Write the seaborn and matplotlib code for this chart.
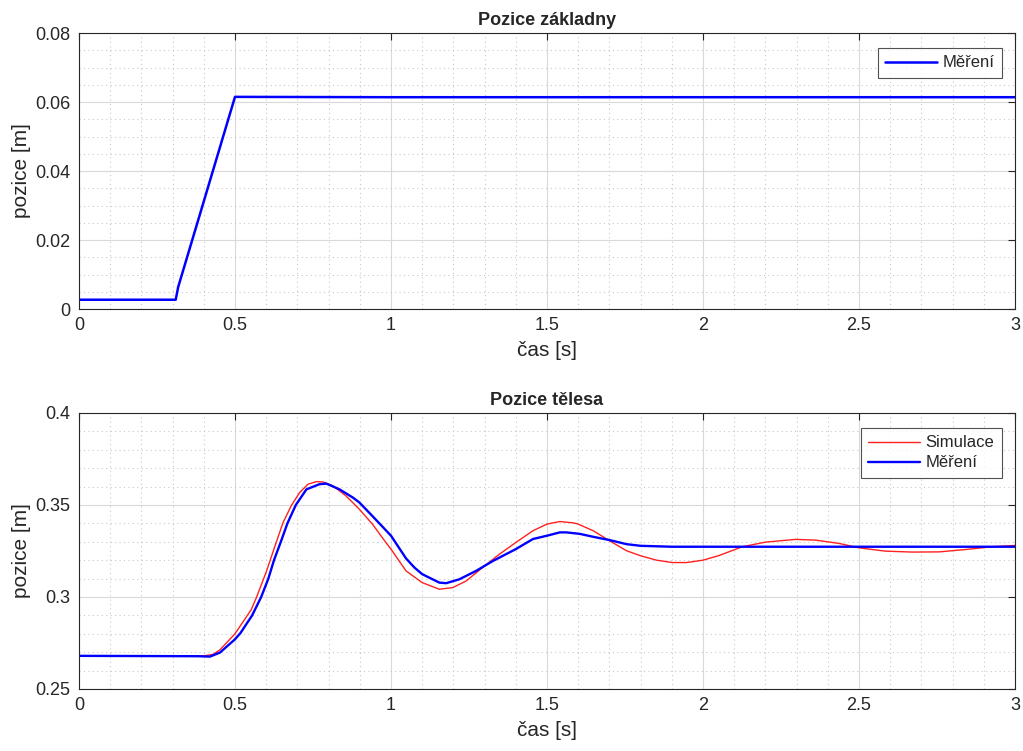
import numpy as np
import pandas as pd
import matplotlib
matplotlib.use("Agg")
import matplotlib.pyplot as plt
from matplotlib.ticker import MultipleLocator
import seaborn as sns

# === DATOS ===
# Pozice základny - měření
t_zakl = [0.0, 0.31, 0.318, 0.40, 0.50, 1.0, 1.5, 2.0, 2.5, 3.0]
x_zakl = [0.0027, 0.0027, 0.0064, 0.0312, 0.0615, 0.0614, 0.0614, 0.0614, 0.0614, 0.0614]

# Pozice tělesa - simulace
t_sim = [0.0, 0.40, 0.43, 0.452, 0.50, 0.552, 0.569, 0.601, 0.628, 0.654, 0.681,
         0.707, 0.734, 0.761, 0.782, 0.814, 0.856, 0.899, 0.941, 0.984, 1.0,
         1.048, 1.10, 1.155, 1.198, 1.241, 1.30, 1.348, 1.40, 1.455, 1.50,
         1.541, 1.583, 1.60, 1.648, 1.701, 1.755, 1.80, 1.851, 1.902, 1.947,
         2.0, 2.051, 2.126, 2.20, 2.297, 2.361, 2.436, 2.50, 2.585, 2.671,
         2.756, 2.842, 2.927, 3.0]
x_sim = [0.268, 0.268, 0.2688, 0.2713, 0.2800, 0.2931, 0.2998, 0.3140, 0.3276,
         0.3404, 0.3498, 0.3567, 0.3613, 0.3627, 0.3625, 0.3604, 0.3549, 0.3476,
         0.3395, 0.3295, 0.3260, 0.3142, 0.3078, 0.3042, 0.3051, 0.3087, 0.3169,
         0.3233, 0.3296, 0.3360, 0.3396, 0.3410, 0.3403, 0.3396, 0.3360, 0.3305,
         0.3251, 0.3224, 0.3200, 0.3187, 0.3187, 0.3200, 0.3225, 0.3273, 0.3298,
         0.3313, 0.3309, 0.3291, 0.3267, 0.3249, 0.3244, 0.3245, 0.3258, 0.3273,
         0.3280]

# Pozice tělesa - měření
t_mer = [0.0, 0.38, 0.42, 0.452, 0.50, 0.518, 0.555, 0.584, 0.607, 0.625, 0.647,
         0.668, 0.695, 0.729, 0.771, 0.793, 0.835, 0.878, 0.899, 0.946, 1.0,
         1.048, 1.075, 1.10, 1.155, 1.177, 1.219, 1.273, 1.327, 1.40, 1.455, 1.50,
         1.541, 1.562, 1.605, 1.648, 1.701, 1.755, 1.80, 1.90, 2.0, 2.5, 3.0]
x_mer = [0.268, 0.2678, 0.2676, 0.2698, 0.2770, 0.2805, 0.2900, 0.3000, 0.3100,
         0.3200, 0.3300, 0.3400, 0.3500, 0.3585, 0.3613, 0.3616, 0.3585, 0.3540,
         0.3513, 0.3430, 0.3333, 0.3210, 0.3160, 0.3124, 0.3078, 0.3075, 0.3096,
         0.3142, 0.3196, 0.3260, 0.3315, 0.3333, 0.3351, 0.3351, 0.3343, 0.3327,
         0.3309, 0.3287, 0.3278, 0.3273, 0.3273, 0.3273, 0.3273]

df_zakl = pd.DataFrame({"t": t_zakl, "x": x_zakl})
df_sim = pd.DataFrame({"t": t_sim, "x": x_sim})
df_mer = pd.DataFrame({"t": t_mer, "x": x_mer})

# === ESTILO ===
sns.set_theme(style="white")
plt.rcParams["font.family"] = ["Liberation Sans", "DejaVu Sans"]

fig = plt.figure(figsize=(10.23, 7.51), dpi=100)
ax1 = fig.add_axes([0.0772, 0.5885, 0.9150, 0.3675])
ax2 = fig.add_axes([0.0772, 0.0826, 0.9150, 0.3675])

sns.lineplot(data=df_zakl, x="t", y="x", ax=ax1, color="#0000ff", lw=1.8,
             label="Měření", sort=False)
sns.lineplot(data=df_sim, x="t", y="x", ax=ax2, color="#ff2020", lw=1.0,
             label="Simulace", sort=False)
sns.lineplot(data=df_mer, x="t", y="x", ax=ax2, color="#0000ff", lw=1.7,
             label="Měření", sort=False)


def styl_matlab(ax, ylim, ymaj, ymin, titulek):
    ax.set_xlim(0, 3)
    ax.set_ylim(*ylim)
    ax.xaxis.set_major_locator(MultipleLocator(0.5))
    ax.xaxis.set_minor_locator(MultipleLocator(0.1))
    ax.yaxis.set_major_locator(MultipleLocator(ymaj))
    ax.yaxis.set_minor_locator(MultipleLocator(ymin))
    ax.xaxis.set_major_formatter(plt.FuncFormatter(lambda v, p: f"{v:g}"))
    ax.yaxis.set_major_formatter(plt.FuncFormatter(lambda v, p: f"{v:g}"))
    ax.grid(which="major", color="#d9d9d9", lw=0.8, ls="-")
    ax.grid(which="minor", color="#c8c8c8", lw=0.8, ls=(0, (1, 3)))
    ax.set_axisbelow(True)
    ax.tick_params(which="major", direction="in", length=5, width=0.8,
                   top=True, right=True, labelsize=13, colors="#262626",
                   pad=6)
    ax.tick_params(which="minor", length=0)
    for s in ax.spines.values():
        s.set_color("#262626")
        s.set_linewidth(0.8)
    ax.set_title(titulek, fontsize=13, fontweight="bold", pad=6)
    ax.set_xlabel("čas [s]", fontsize=15, color="#262626", labelpad=5)
    ax.set_ylabel("pozice [m]", fontsize=15, color="#262626", labelpad=3)


styl_matlab(ax1, (0, 0.08), 0.02, 0.005, "Pozice základny")
styl_matlab(ax2, (0.25, 0.4), 0.05, 0.01, "Pozice tělesa")

for ax in (ax1, ax2):
    leg = ax.legend(loc="upper right", fontsize=12, frameon=True, fancybox=False,
                    edgecolor="#262626", handlelength=3.1, borderpad=0.45,
                    labelspacing=0.3, handletextpad=0.35, borderaxespad=0,
                    bbox_to_anchor=(0.986, 0.946))
    leg.get_frame().set_linewidth(0.8)

fig.savefig("out.png", dpi=100)
